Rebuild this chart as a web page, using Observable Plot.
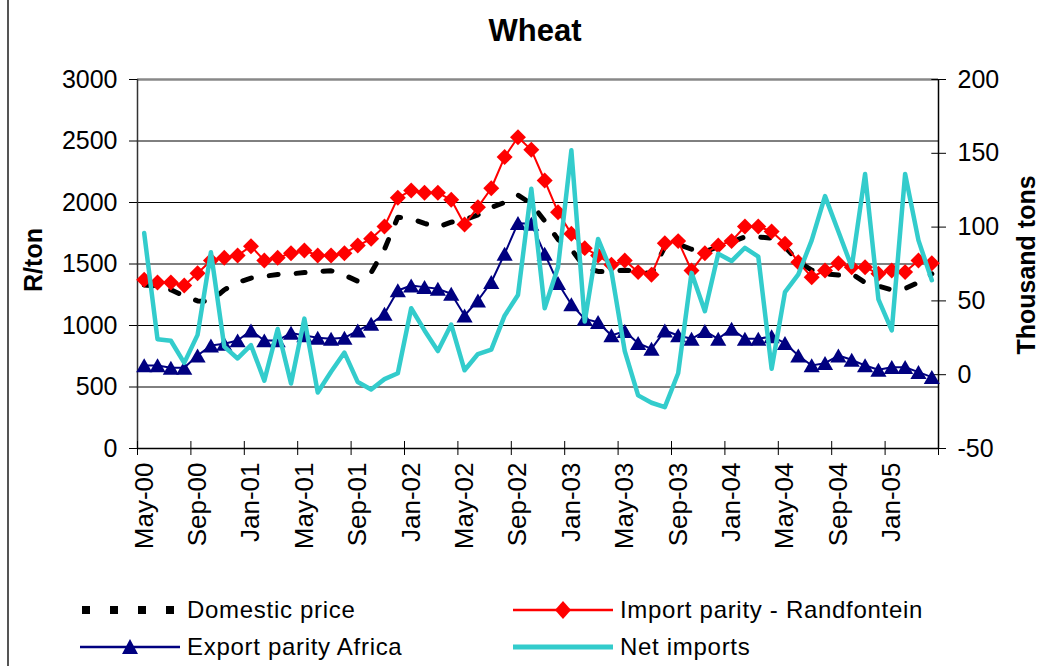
<!DOCTYPE html>
<html><head><meta charset="utf-8">
<script src="https://cdn.jsdelivr.net/npm/d3@7"></script>
<script src="https://cdn.jsdelivr.net/npm/@observablehq/plot@0.6"></script>
<style>
body{margin:0;background:#fff;font-family:"Liberation Sans",Arial,sans-serif;color:#000;}
#wrap{position:relative;width:1042px;height:666px;overflow:hidden;background:#fff;}
#border{position:absolute;left:7px;top:0;width:0;height:666px;border-left:2px solid #555;}
#title{position:absolute;left:0;width:1070px;top:13px;text-align:center;font-weight:bold;font-size:31px;line-height:36px;}
#chart{position:absolute;left:0;top:0;}
.ytitle{position:absolute;font-weight:bold;font-size:25px;line-height:26px;white-space:nowrap;transform:translate(-50%,-50%) rotate(-90deg);}
.leg{position:absolute;display:flex;align-items:center;font-size:24px;letter-spacing:0.7px;line-height:30px;white-space:nowrap;}
.leg svg{margin-right:7px;}
</style></head><body>
<div id="wrap">
  <div id="border"></div>
  <div id="chart"></div>
  <div id="title">Wheat</div>
  <div class="ytitle" style="left:33px;top:260px;">R/ton</div>
  <div class="ytitle" style="left:1026px;top:265px;">Thousand tons</div>
  <div id="legend"></div>
</div>
<script>
// ---- data (monthly, May-00 .. Apr-05) ----
const domestic = [1330,1320,1290,1240,1200,1195,1290,1350,1385,1400,1415,1420,
  1430,1440,1445,1410,1360,1430,1620,1880,1870,1830,1800,1840,
  1860,1900,1960,2000,2060,1990,1850,1700,1620,1470,1440,1440,
  1450,1440,1420,1640,1660,1620,1600,1640,1680,1720,1720,1710,
  1640,1520,1450,1420,1410,1420,1350,1320,1290,1300,1350,1420];
const importParity = [1372,1350,1350,1325,1425,1528,1550,1569,1645,1528,1550,1588,
  1610,1569,1569,1588,1650,1705,1805,2038,2098,2079,2079,2022,
  1821,1962,2116,2369,2531,2428,2179,1921,1745,1629,1569,1493,
  1528,1434,1412,1669,1686,1447,1588,1650,1686,1805,1805,1764,
  1664,1515,1393,1447,1507,1474,1474,1420,1447,1434,1528,1507];
const exportParity = [675,675,656,656,756,837,851,878,959,878,878,940,
  919,900,892,900,959,1014,1095,1285,1325,1312,1298,1258,
  1081,1203,1352,1583,1832,1827,1583,1344,1171,1054,1027,919,
  954,856,810,959,919,892,954,892,973,892,892,911,
  856,756,675,694,756,721,675,640,661,661,621,580];
const netImports = [96,24,23,8,27,83,19,11,20,-4,31,-6,
  38,-12,2,15,-5,-10,-3,1,45,30,16,34,
  3,14,17,40,54,126,45,73,152,36,92,70,
  16,-14,-19,-22,1,69,43,82,77,86,80,4,
  56,68,91,121,97,73,136,51,30,136,91,64];
const xTickLabels = ["May-00","Sep-00","Jan-01","May-01","Sep-01","Jan-02","May-02","Sep-02","Jan-03","May-03","Sep-03","Jan-04","May-04","Sep-04","Jan-05"];
const leftTicks = [0,500,1000,1500,2000,2500,3000];
const rightTicks = [-50,0,50,100,150,200];
const leftDomain = [0,3000];
const rightDomain = [-50,200];

// ---- build table ----
const months = d3.utcMonth.range(new Date(Date.UTC(2000,4,1)), new Date(Date.UTC(2005,4,1)));
const fmt = d3.utcFormat("%b-%y");
const k = (leftDomain[1]-leftDomain[0])/(rightDomain[1]-rightDomain[0]);
const toLeft = v => leftDomain[0] + (v - rightDomain[0]) * k;
const rows = months.map((m,i)=>({pos:i+0.5, label:fmt(m), domestic:domestic[i], imp:importParity[i], exp:exportParity[i], net:toLeft(netImports[i])}));
const labelPos = xTickLabels.map(l => rows.find(r => r.label === l).pos);
const posLabel = new Map(labelPos.map((p,j)=>[p, xTickLabels[j]]));
const boundaries = d3.range(0, months.length + 1, 4);
const rightPos = rightTicks.map(toLeft);
const rightLab = new Map(rightPos.map((p,j)=>[p, String(rightTicks[j])]));
const n = months.length;

const chart = Plot.plot({
  width:1042, height:590,
  marginLeft:137, marginRight:104, marginTop:79, marginBottom:142,
  x:{domain:[0,n]},
  y:{domain:leftDomain},
  style:{fontFamily:"'Liberation Sans', Arial, sans-serif", fontSize:"25px", color:"#000", background:"transparent", overflow:"visible"},
  marks:[
    Plot.gridY(leftTicks.slice(1,-1), {stroke:"#000", strokeOpacity:1, strokeWidth:1}),
    Plot.ruleY([leftDomain[1]], {stroke:"#888", strokeWidth:2.5}),
    Plot.ruleX([0], {stroke:"#333", strokeWidth:1.5}),
    Plot.ruleX([n], {stroke:"#000", strokeWidth:1.5}),
    Plot.axisY({anchor:"left", ticks:leftTicks, tickFormat:d=>String(d), tickSize:8, tickPadding:12, label:null, fontSize:25}),
    Plot.axisY({anchor:"right", ticks:rightPos, tickFormat:d=>rightLab.get(d), tickSize:7, tickPadding:12, label:null, fontSize:25}),
    Plot.ruleY(rightPos, {x1:n-0.5, x2:n, stroke:"#000"}),
    Plot.ruleX(boundaries, {y1:-57, y2:57, stroke:"#000"}),
    Plot.axisX({ticks:labelPos, tickFormat:d=>posLabel.get(d), tickSize:0, tickPadding:14, tickRotate:-90, label:null, fontSize:26}),
    Plot.ruleY([leftDomain[0]], {stroke:"#000", strokeWidth:1.5}),
    Plot.line(rows, {x:"pos", y:"domestic", stroke:"#000", strokeWidth:5, strokeDasharray:"9,18"}),
    Plot.line(rows, {x:"pos", y:"imp", stroke:"#FF0000", strokeWidth:2}),
    Plot.dot(rows, {x:"pos", y:"imp", symbol:"diamond2", r:7.2, fill:"#FF0000", stroke:"none"}),
    Plot.line(rows, {x:"pos", y:"exp", stroke:"#000080", strokeWidth:2}),
    Plot.dot(rows, {x:"pos", y:"exp", symbol:"triangle", r:6, fill:"#000080", stroke:"none", dy:2.2}),
    Plot.line(rows, {x:"pos", y:"net", stroke:"#33CCCC", strokeWidth:4.5})
  ]
});
document.getElementById("chart").appendChild(chart);

// ---- legend ----
const legendItems = [
  {name:"Domestic price", left:80, top:595, svg:'<line x1="2" y1="10" x2="100" y2="10" stroke="#000" stroke-width="8" stroke-dasharray="8,20"/>'},
  {name:"Import parity - Randfontein", left:513, top:595, svg:'<line x1="0" y1="10" x2="100" y2="10" stroke="#FF0000" stroke-width="2.5"/><path d="M50,1 L58,10 L50,19 L42,10 Z" fill="#FF0000"/>'},
  {name:"Export parity Africa", left:80, top:632, svg:'<line x1="0" y1="10" x2="100" y2="10" stroke="#000080" stroke-width="2.5"/><path d="M50,2 L58,17 L42,17 Z" fill="#000080"/>'},
  {name:"Net imports", left:513, top:632, svg:'<line x1="0" y1="10" x2="100" y2="10" stroke="#33CCCC" stroke-width="5"/>'}
];
const leg = document.getElementById("legend");
legendItems.forEach(it=>{
  const d = document.createElement("div");
  d.className = "leg";
  d.style.left = it.left + "px";
  d.style.top = it.top + "px";
  d.innerHTML = '<svg width="100" height="20">' + it.svg + '</svg><span>' + it.name + '</span>';
  leg.appendChild(d);
});
</script>
</body></html>
